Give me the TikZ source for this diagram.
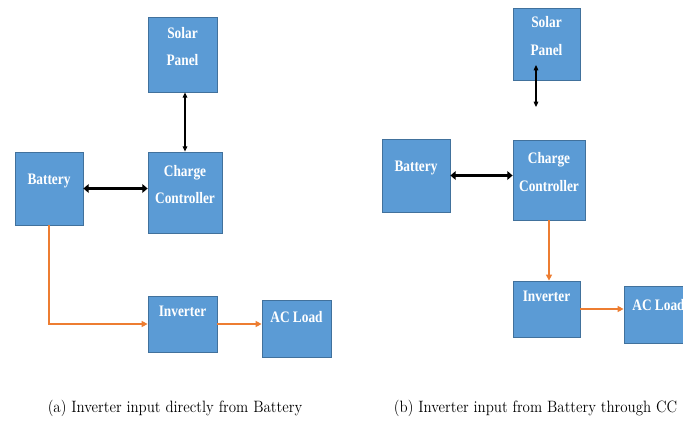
\documentclass[tikz,border=0pt]{standalone}
\usepackage{fontspec}
\newfontfamily\boxfont{Liberation Serif}
\usetikzlibrary{arrows.meta,fit}

\definecolor{boxblue}{HTML}{5B9BD5}
\definecolor{boxedge}{HTML}{41719C}
\definecolor{wireorange}{HTML}{ED7D31}

\tikzset{
  blk/.style={draw=boxedge, line width=0.6pt, fill=boxblue, inner sep=0pt},
  lbl/.style={text=white, font=\boxfont\bfseries\fontsize{10}{17}\selectfont, align=center, yshift=6pt, yscale=1.2},
  thinarr/.style={line width=0.8pt, {Triangle[length=4pt,width=3.5pt]}-{Triangle[length=4pt,width=3.5pt]}},
  thickarr/.style={line width=2.2pt, {Triangle[length=4pt,width=6.5pt]}-{Triangle[length=4pt,width=6.5pt]}},
  orarr/.style={wireorange, line width=1.2pt, -{Triangle[length=4.5pt,width=4.5pt]}},
  captext/.style={font=\fontsize{11.2}{13}\selectfont, yscale=1.1}
}

\begin{document}
\begin{tikzpicture}[x=0.75pt, y=-0.75pt]
  \useasboundingbox (0,0) rectangle (683,435);

  % (a) inverter fed straight from the battery
  \node[blk, fit={(148,17) (217,92)}, label={[lbl]center:{Solar\\Panel}}] (sp) {};
  \node[blk, fit={(148,152) (222,233)}, label={[lbl]center:{Charge\\Controller}}] (cc) {};
  \node[blk, fit={(15,152) (83,225)}, label={[lbl]center:Battery}] (bat) {};
  \node[blk, fit={(148,296) (217,352)}, label={[lbl,yshift=3pt]center:Inverter}] (inv) {};
  \node[blk, fit={(262,300) (331,357)}, label={[lbl,yshift=2pt]center:AC Load}] (acl) {};

  \draw[thinarr] (sp.south -| cc.north) -- (cc.north);
  \draw[thickarr] (bat.east) -- (bat.east -| cc.west);
  \draw[orarr] (bat.south) |- (inv.west);
  \draw[orarr] (inv.east) -- (inv.east -| acl.west);

  \node[captext] (capa) at (175,408) {(a) Inverter input directly from Battery};

  % (b) inverter fed through the charge controller
  \node[blk, fit={(513,8) (580,80)}, label={[lbl]center:{Solar\\Panel}}] (sp2) {};
  \node[blk, fit={(513,140) (585,220)}, label={[lbl]center:{Charge\\Controller}}] (cc2) {};
  \node[blk, fit={(382,139) (450,212)}, label={[lbl]center:Battery}] (bat2) {};
  \node[blk, fit={(513,281) (580,337)}, label={[lbl,yshift=3pt]center:Inverter}] (inv2) {};
  \node[blk, fit={(624,286) (693,343)}, label={[lbl,yshift=1pt]center:AC Load}] (acl2) {};

  \coordinate (spup) at (536,65);
  \coordinate (spdn) at (536,107);
  \draw[thinarr] (spup) -- (spdn);
  \draw[thickarr] (bat2.east) -- (bat2.east -| cc2.west);
  \draw[orarr] (cc2.south) -- (cc2.south |- inv2.north);
  \draw[orarr] (inv2.east) -- (inv2.east -| acl2.west);

  \node[captext, anchor=east] (capb) at (682,408) {(b) Inverter input from Battery through CC};
\end{tikzpicture}
\end{document}
